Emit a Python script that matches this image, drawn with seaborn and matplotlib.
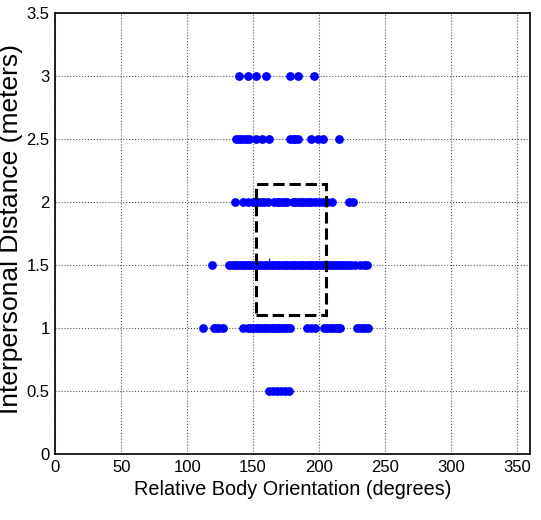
import numpy as np
import pandas as pd
import matplotlib
matplotlib.use("Agg")
import matplotlib.pyplot as plt
import seaborn as sns
from matplotlib.patches import Rectangle
from matplotlib.ticker import FormatStrFormatter

# ================================
# DATA
# ================================

orient_d3 = [139, 146, 152, 160, 178, 184, 196]
orient_d25 = [137, 139, 141, 143, 145, 147, 152, 157, 162, 178, 180, 182, 184,
              194, 199, 203, 215]
orient_d2 = [136, 142, 146, 150, 152, 154, 156, 158, 161, 166, 168, 170, 172,
             174, 176, 180, 182, 184, 186, 188, 190, 192, 194, 197, 200, 203,
             206, 210, 223, 226]
orient_d15 = [119, 132, 134, 136, 138, 140, 142, 144, 146, 148, 150, 152, 154,
              156, 158, 160, 162, 164, 166, 168, 170, 172, 174, 176, 178, 180,
              182, 184, 186, 188, 190, 192, 194, 196, 198, 200, 202, 204, 206,
              208, 210, 212, 214, 216, 218, 220, 222, 224, 227, 231, 234, 236]
orient_d1 = [112, 120, 122, 124, 127, 142, 146, 148, 150, 152, 154, 156, 158,
             160, 162, 164, 166, 168, 170, 172, 174, 176, 178, 191, 194, 197,
             204, 206, 208, 210, 212, 214, 216, 229, 231, 233, 235, 237]
orient_d05 = [162, 165, 168, 171, 174, 177]

distances = [3.0, 2.5, 2.0, 1.5, 1.0, 0.5]

# mean marker and the dashed region
mean_orient = 162
mean_dist = 1.52
box_orient = [152.5, 205]
box_dist = [1.1, 2.14]

x_ticks = [0, 50, 100, 150, 200, 250, 300, 350]
y_ticks = [0, 0.5, 1, 1.5, 2, 2.5, 3, 3.5]

# build long table
rows = []
for d, vals in zip(distances, [orient_d3, orient_d25, orient_d2,
                               orient_d15, orient_d1, orient_d05]):
    for v in vals:
        rows.append({"orientation": v, "distance": d})
df = pd.DataFrame(rows)

# ================================
# PLOT
# ================================

sns.set_style("white")
plt.rcParams["font.family"] = ["Liberation Sans", "DejaVu Sans"]
plt.rcParams["text.color"] = "black"
plt.rcParams["axes.labelcolor"] = "black"

fig = plt.figure(figsize=(5.41, 5.2), dpi=100)
ax = fig.add_axes([0.102, 0.127, 0.878, 0.848])

sns.scatterplot(data=df, x="orientation", y="distance", ax=ax,
                color="#0000ff", s=40, linewidth=0, zorder=3)

ax.plot([mean_orient], [mean_dist], marker="+", color="#0000ff",
        markersize=6, markeredgewidth=0.8, zorder=4)

ax.add_patch(Rectangle((box_orient[0], box_dist[0]),
                       box_orient[1] - box_orient[0],
                       box_dist[1] - box_dist[0],
                       fill=False, edgecolor="black", linestyle="--",
                       linewidth=2.2, zorder=5))

ax.set_xlim(0, 360)
ax.set_ylim(0, 3.5)
ax.set_xticks(x_ticks)
ax.set_yticks(y_ticks)
ax.yaxis.set_major_formatter(FormatStrFormatter("%g"))

ax.grid(True, linestyle=":", color="#555555", linewidth=0.8)
ax.set_axisbelow(True)
for sp in ax.spines.values():
    sp.set_color("black")
    sp.set_linewidth(1.2)

ax.tick_params(direction="in", length=4, width=0.8, labelsize=12,
               colors="black", pad=4)

ax.set_xlabel("Relative Body Orientation (degrees)", fontsize=14.3)
ax.set_ylabel("Interpersonal Distance (meters)", fontsize=19)
ax.xaxis.set_label_coords(0.5, -0.058)
ax.yaxis.set_label_coords(-0.068, 0.51)

fig.savefig("out.png", dpi=100)
